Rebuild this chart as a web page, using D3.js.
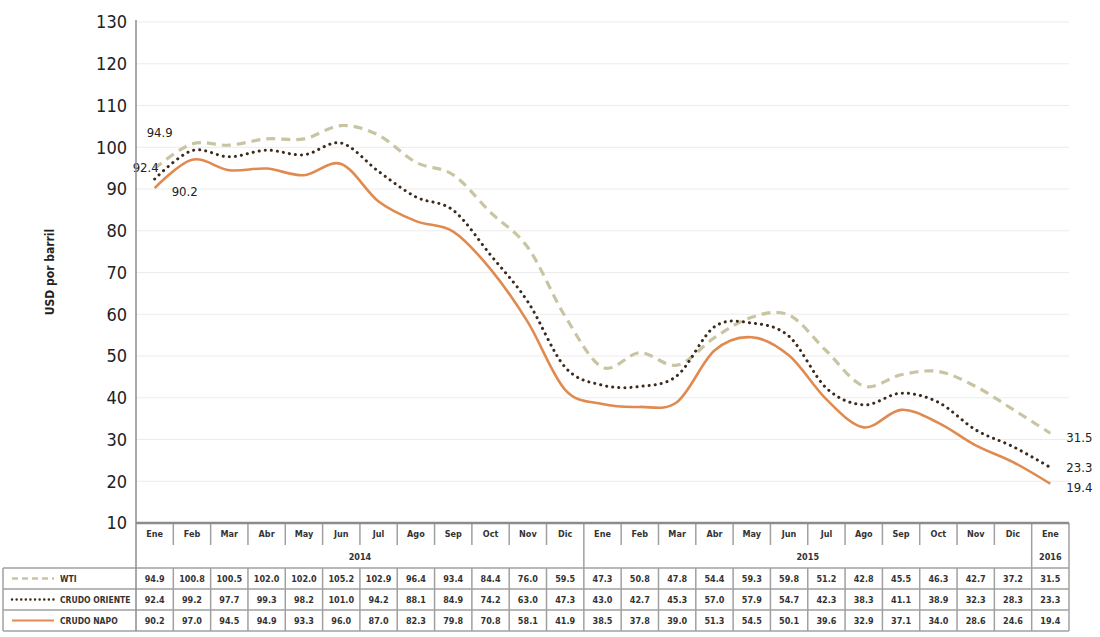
<!DOCTYPE html>
<html>
<head>
<meta charset="utf-8">
<script src="https://cdn.jsdelivr.net/npm/d3@7"></script>
<style>
  html, body { margin: 0; padding: 0; background: #fff; }
  svg { display: block; font-family: "Liberation Sans Narrow", "DejaVu Sans Condensed", "Liberation Sans", sans-serif; }
</style>
</head>
<body>
<svg id="chart" width="1100" height="637"></svg>
<script>
// Monthly crude prices, USD per barrel
const months = ["Ene","Feb","Mar","Abr","May","Jun","Jul","Ago","Sep","Oct","Nov","Dic",
                "Ene","Feb","Mar","Abr","May","Jun","Jul","Ago","Sep","Oct","Nov","Dic","Ene"];
const yearGroups = [
  { label: "2014", start: 0, end: 11 },
  { label: "2015", start: 12, end: 23 },
  { label: "2016", start: 24, end: 24 }
];
const wti     = [94.9,100.8,100.5,102.0,102.0,105.2,102.9,96.4,93.4,84.4,76.0,59.5,
                 47.3,50.8,47.8,54.4,59.3,59.8,51.2,42.8,45.5,46.3,42.7,37.2,31.5];
const oriente = [92.4,99.2,97.7,99.3,98.2,101.0,94.2,88.1,84.9,74.2,63.0,47.3,
                 43.0,42.7,45.3,57.0,57.9,54.7,42.3,38.3,41.1,38.9,32.3,28.3,23.3];
const napo    = [90.2,97.0,94.5,94.9,93.3,96.0,87.0,82.3,79.8,70.8,58.1,41.9,
                 38.5,37.8,39.0,51.3,54.5,50.1,39.6,32.9,37.1,34.0,28.6,24.6,19.4];
const yTicks  = [10,20,30,40,50,60,70,80,90,100,110,120,130];

const series = [
  { name: "WTI", values: wti, color: "#c9c5a3", width: 3.2, dash: "9,6", cap: "butt" },
  { name: "CRUDO ORIENTE", values: oriente, color: "#3b2b1c", width: 3, dash: "0.1,6", cap: "round" },
  { name: "CRUDO NAPO", values: napo, color: "#e18a50", width: 2.6, dash: null, cap: "butt" }
];

const svg = d3.select("#chart");
const plotLeft = 136, plotRight = 1069, plotTop = 22, axisY = 523;
const headerBottom = 568, rowH = 21;

const x = d3.scaleBand().domain(d3.range(months.length)).range([plotLeft, plotRight]);
const cx = i => x(i) + x.bandwidth() / 2;
const y = d3.scaleLinear().domain([10, 130]).range([axisY, plotTop]);

// gridlines
svg.append("g").selectAll("line").data(yTicks.filter(t => t > 10)).join("line")
  .attr("x1", plotLeft).attr("x2", plotRight)
  .attr("y1", d => y(d)).attr("y2", d => y(d))
  .attr("stroke", "#ececec").attr("stroke-width", 1);

// y axis labels
const yAxis = d3.axisLeft(y).tickValues(yTicks).tickSize(0).tickPadding(9);
const gy = svg.append("g").attr("transform", `translate(${plotLeft},0)`).call(yAxis);
gy.select(".domain").remove();
gy.selectAll("text").attr("font-size", 18).attr("fill", "#222")
  .attr("font-family", "'Liberation Sans Narrow','DejaVu Sans Condensed',sans-serif");

// y axis title
svg.append("text")
  .attr("transform", "translate(54,272) rotate(-90)")
  .attr("text-anchor", "middle").attr("font-size", 12).attr("font-weight", "bold")
  .attr("fill", "#222").text("USD por barril");

// lines
const line = d3.line().x((d, i) => cx(i)).y(d => y(d)).curve(d3.curveCatmullRom.alpha(0));
series.forEach(s => {
  svg.append("path").datum(s.values)
    .attr("d", line).attr("fill", "none")
    .attr("stroke", s.color).attr("stroke-width", s.width)
    .attr("stroke-dasharray", s.dash).attr("stroke-linecap", s.cap);
});

// value labels at the first and last points
const labelStyle = sel => sel.attr("font-size", 13).attr("fill", "#222");
const last = months.length - 1;
svg.append("text").call(labelStyle).attr("x", cx(0) - 8).attr("y", y(wti[0]) - 32).text(wti[0].toFixed(1));
svg.append("text").call(labelStyle).attr("x", cx(0) - 22).attr("y", y(oriente[0]) - 7).text(oriente[0].toFixed(1));
svg.append("text").call(labelStyle).attr("x", cx(0) + 17).attr("y", y(napo[0]) + 8).text(napo[0].toFixed(1));
svg.append("text").call(labelStyle).attr("x", cx(last) + 16).attr("y", y(wti[last]) + 9).text(wti[last].toFixed(1));
svg.append("text").call(labelStyle).attr("x", cx(last) + 16).attr("y", y(oriente[last]) + 5).text(oriente[last].toFixed(1));
svg.append("text").call(labelStyle).attr("x", cx(last) + 16).attr("y", y(napo[last]) + 8).text(napo[last].toFixed(1));

// data table
const tbl = svg.append("g");
const border = "#a0a0a0";
const monthRowBottom = 545;

// header: month labels with short separators
tbl.selectAll(".mlabel").data(months).join("text")
  .attr("x", (d, i) => cx(i)).attr("y", 537)
  .attr("text-anchor", "middle").attr("font-size", 9).attr("font-weight", "bold")
  .attr("fill", "#333").text(d => d);
tbl.selectAll(".msep").data(d3.range(1, months.length)).join("line")
  .attr("x1", i => x(i)).attr("x2", i => x(i))
  .attr("y1", axisY).attr("y2", i => (i % 12 === 0) ? headerBottom : monthRowBottom)
  .attr("stroke", border).attr("stroke-width", 1.5);
tbl.selectAll(".ylabel").data(yearGroups).join("text")
  .attr("x", d => (x(d.start) + x(d.end) + x.bandwidth()) / 2).attr("y", 560)
  .attr("text-anchor", "middle").attr("font-size", 9).attr("font-weight", "bold")
  .attr("fill", "#333").text(d => d.label);
tbl.append("line").attr("x1", plotRight).attr("x2", plotRight).attr("y1", axisY).attr("y2", headerBottom + rowH * 3)
  .attr("stroke", border).attr("stroke-width", 1.5);

// body rows
const tableLeft = 3;
series.forEach((s, r) => {
  const y0 = headerBottom + r * rowH;
  tbl.append("line").attr("x1", tableLeft).attr("x2", plotRight).attr("y1", y0).attr("y2", y0)
    .attr("stroke", border).attr("stroke-width", 1.5);
  tbl.selectAll(null).data(s.values).join("text")
    .attr("x", (d, i) => cx(i)).attr("y", y0 + 14)
    .attr("text-anchor", "middle").attr("font-size", 9).attr("font-weight", "bold")
    .attr("fill", "#333").text(d => d.toFixed(1));
  // legend key
  tbl.append("line").attr("x1", 12).attr("x2", 54).attr("y1", y0 + 10.5).attr("y2", y0 + 10.5)
    .attr("stroke", s.color).attr("stroke-width", s.width * 0.8)
    .attr("stroke-dasharray", s.dash ? (r === 0 ? "6,4" : "0.1,4.5") : null)
    .attr("stroke-linecap", s.cap);
  tbl.append("text").attr("x", 60).attr("y", y0 + 14)
    .attr("font-size", 8.5).attr("font-weight", "bold").attr("fill", "#333").text(s.name);
});
const tableBottom = headerBottom + rowH * 3;
tbl.append("line").attr("x1", tableLeft).attr("x2", plotRight).attr("y1", tableBottom).attr("y2", tableBottom)
  .attr("stroke", border).attr("stroke-width", 1.5);
tbl.append("line").attr("x1", tableLeft).attr("x2", tableLeft).attr("y1", headerBottom).attr("y2", tableBottom)
  .attr("stroke", border).attr("stroke-width", 1.5);
tbl.selectAll(".csep").data(d3.range(1, months.length)).join("line")
  .attr("x1", i => x(i)).attr("x2", i => x(i))
  .attr("y1", headerBottom).attr("y2", tableBottom)
  .attr("stroke", border).attr("stroke-width", 1.5);

// axes on top
svg.append("line").attr("x1", plotLeft).attr("x2", plotLeft).attr("y1", plotTop - 2).attr("y2", tableBottom)
  .attr("stroke", "#8c8c8c").attr("stroke-width", 1.5);
svg.append("line").attr("x1", plotLeft).attr("x2", plotRight).attr("y1", axisY).attr("y2", axisY)
  .attr("stroke", "#8c8c8c").attr("stroke-width", 2.5);
</script>
</body>
</html>
